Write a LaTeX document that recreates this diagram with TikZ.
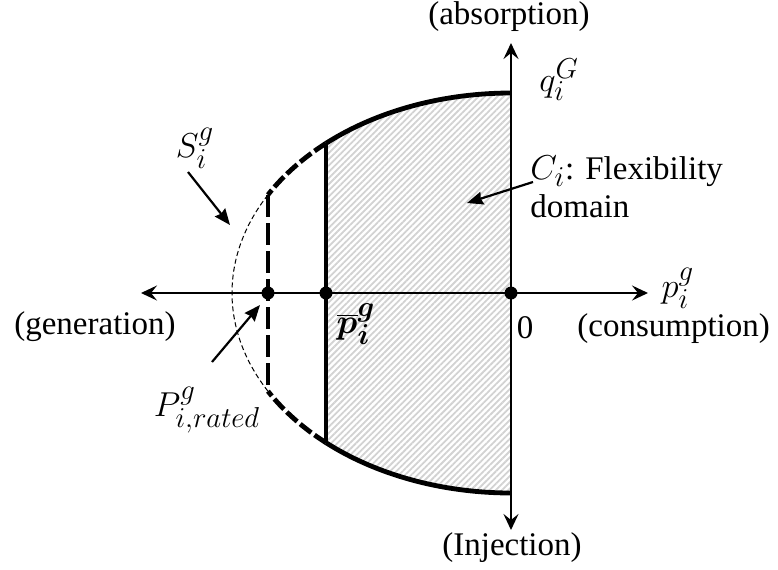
\documentclass[tikz,border=0pt]{standalone}
\usepackage{fontspec}
\setmainfont{Liberation Serif}
\usepackage{bm}
\usetikzlibrary{arrows.meta,patterns.meta}
\begin{document}
\begin{tikzpicture}[x=0.5pt,y=-0.5pt,
  lbl/.style={inner sep=0pt,font=\fontsize{16.5}{19}\selectfont},
  mlbl/.style={inner sep=0pt,font=\fontsize{19}{21}\selectfont},
  axis/.style={line width=1pt,{Stealth[length=8pt,width=7.5pt,inset=3pt]}-{Stealth[length=8pt,width=7.5pt,inset=3pt]}},
  axisend/.style={line width=1.3pt,-{Stealth[length=8pt,width=7.5pt,inset=3pt]}},
  pointer/.style={line width=1.1pt,-{Stealth[length=8pt,width=6.5pt,inset=0.8pt]}},
  thickcurve/.style={line width=2.4pt},
  dot/.style={circle,fill=black,inner sep=0pt,minimum size=6.5pt}]
\useasboundingbox (0,0) rectangle (778,569);
% hatched domain
\fill[pattern={Lines[angle=45,distance=2.2pt,line width=0.9pt]},pattern color=gray!35]
  plot[domain=90:131.5,samples=40] ({511+279*cos(\x)},{293-200*sin(\x)})
  -- plot[domain=228.5:270,samples=40] ({511+279*cos(\x)},{293-200*sin(\x)}) -- cycle;
% curves
\draw[thickcurve] plot[domain=90:131.5,samples=40] ({511+279*cos(\x)},{293-200*sin(\x)});
\draw[thickcurve] plot[domain=228.5:270,samples=40] ({511+279*cos(\x)},{293-200*sin(\x)});
\draw[thickcurve,dash pattern=on 7pt off 2pt] plot[domain=131.5:150.6,samples=30] ({511+279*cos(\x)},{293-200*sin(\x)});
\draw[thickcurve,dash pattern=on 7pt off 2pt] plot[domain=228.5:209.4,samples=30] ({511+279*cos(\x)},{293-200*sin(\x)});
\draw[line width=0.5pt,dash pattern=on 2.5pt off 1.5pt] plot[domain=150.6:209.4,samples=60] ({511+279*cos(\x)},{293-200*sin(\x)});
% vertical limits
\coordinate (Pbtop) at (326,143);
\coordinate (Pbbot) at (326,443);
\coordinate (Prtop) at (268,195);
\coordinate (Prbot) at (268,386);
\draw[line width=2pt] (Pbtop) -- (Pbbot);
\draw[line width=2.4pt,dash pattern=on 11pt off 3pt] (Prtop) -- (Prbot);
% axes
\coordinate (L) at (141,293);
\coordinate (R) at (648,293);
\coordinate (T) at (511,43);
\coordinate (B) at (511,530);
\coordinate (Oc) at (511,293);
\draw[axis] (L) -- (R);
\draw[axisend] (Oc) -- (T);
\draw[axisend] (Oc) -- (B);
% dots
\node[dot] (O) at (511,293) {};
\node[dot] (Pb) at (326,293) {};
\node[dot] (Pr) at (268,293) {};
% labels
\node[lbl] (absorb) at (509,17) {(absorption)};
\node[lbl] (inj) at (512,548) {(Injection)};
\node[mlbl] (qG) at (559,80) {$q_i^G$};
\node[mlbl] (pg) at (678,288) {$p_i^g$};
\node[lbl] (zero) at (525,328) {0};
\node[lbl,anchor=west] (cons) at (577,329) {(consumption)};
\node[lbl,anchor=east] (gen) at (176,327) {(generation)};
\node[mlbl] (S) at (195,148) {$S_i^g$};
\node[mlbl] (Prated) at (207,410) {$P_{i,rated}^g$};
\node[mlbl] (pbar) at (356,324) {$\overline{\bm p}_{\bm i}^{\bm g}$};
\node[lbl,anchor=west,align=left] (C) at (530,187) {\fontsize{19}{19}\selectfont$C_i$\fontsize{16.5}{19}\selectfont: Flexibility\\domain};
% pointers
\coordinate (Cs) at (533,182);
\coordinate (Ce) at (467,203);
\coordinate (Ss) at (188,172);
\coordinate (Se) at (230,225);
\coordinate (Ps) at (212,362);
\coordinate (Pe) at (260,305);
\draw[pointer] (Cs) -- (Ce);
\draw[pointer] (Ss) -- (Se);
\draw[pointer] (Ps) -- (Pe);
\end{tikzpicture}
\end{document}
